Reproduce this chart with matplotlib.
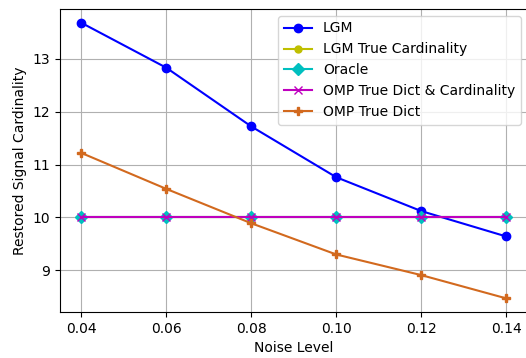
import matplotlib
matplotlib.use("Agg")
import matplotlib.pyplot as plt

noise = [0.04, 0.06, 0.08, 0.10, 0.12, 0.14]
lgm = [13.68, 12.83, 11.72, 10.76, 10.12, 9.64]
lgm_true_card = [10, 10, 10, 10, 10, 10]
oracle = [10, 10, 10, 10, 10, 10]
omp_true_dict_card = [10, 10, 10, 10, 10, 10]
omp_true_dict = [11.22, 10.54, 9.89, 9.30, 8.91, 8.47]

fig, ax = plt.subplots(figsize=(5.26, 3.58), dpi=100)
ax.plot(noise, lgm, color='b', marker='o', label='LGM')
ax.plot(noise, lgm_true_card, color='y', marker='o', markersize=5, label='LGM True Cardinality')
ax.plot(noise, oracle, color='c', marker='D', label='Oracle')
ax.plot(noise, omp_true_dict_card, color='m', marker='x', label='OMP True Dict & Cardinality')
ax.plot(noise, omp_true_dict, color='chocolate', marker='P', label='OMP True Dict')
ax.set_xticks(noise)
ax.set_yticks([9, 10, 11, 12, 13])
ax.set_xlabel('Noise Level')
ax.set_ylabel('Restored Signal Cardinality')
ax.grid(True)
ax.legend(loc='upper right')
fig.subplots_adjust(left=0.114, right=1.003, top=0.975, bottom=0.128)
fig.savefig('out.png', dpi=100)
